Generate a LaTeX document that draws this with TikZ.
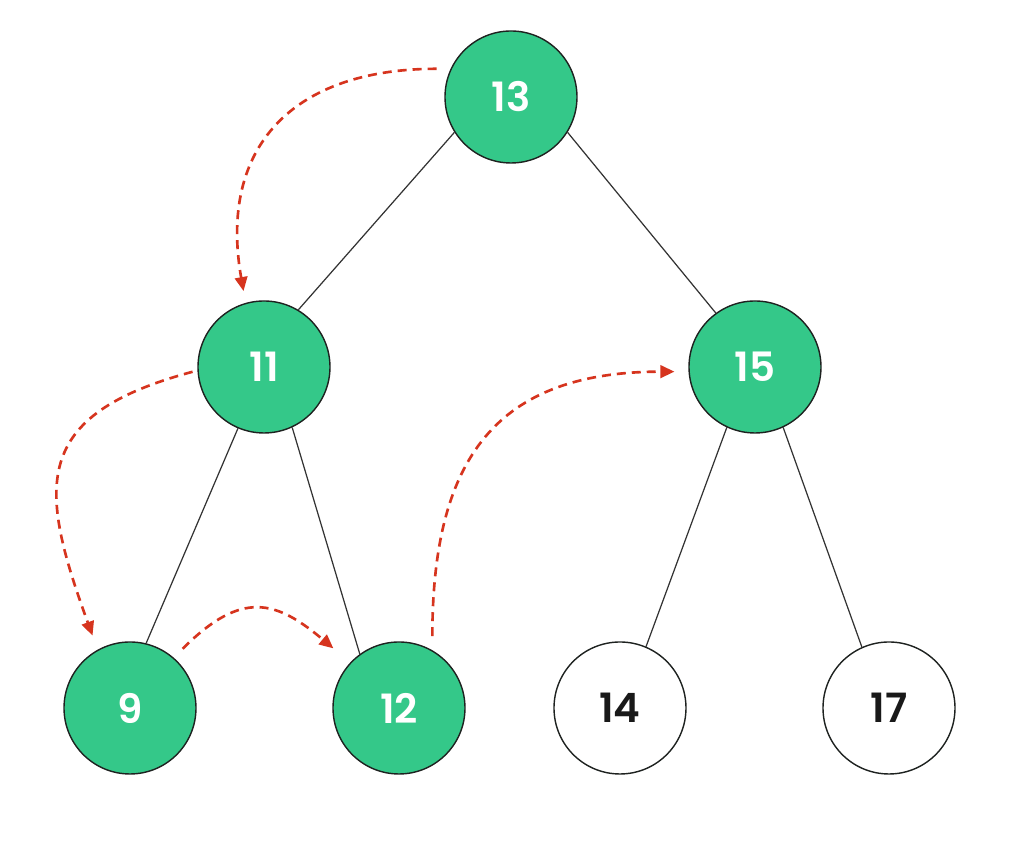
\documentclass[tikz,border=0pt]{standalone}
\usepackage{fontspec}
\setmainfont{Poppins}[BoldFont={Poppins SemiBold}]
\usepackage{xcolor}
\usepackage{tikz}
\usetikzlibrary{positioning, arrows.meta, calc}

\definecolor{visitgreen}{RGB}{52,200,137}
\definecolor{pathred}{RGB}{214,52,30}
\definecolor{rimgray}{RGB}{30,34,32}

\begin{document}
\begin{tikzpicture}[
        >={Triangle[length=0.28cm, width=0.25cm]},
        keynode/.style={circle, minimum size=2.64cm, inner sep=0pt, draw=rimgray, line width=0.8pt,
                        font=\fontsize{23}{27}\selectfont\bfseries},
        visited/.style={keynode, fill=visitgreen, text=white},
        unvisited/.style={keynode, fill=white, text=black!90},
        edge_style/.style={line width=0.7pt, draw=black!80},
        trav_style/.style={->, line width=1.5pt, draw=pathred, dash pattern=on 0.18cm off 0.12cm}
    ]

    \useasboundingbox (0,0) rectangle (20.48,16.92);

    % =========================================================================
    % 1. NODE PLACEMENTS
    % =========================================================================

    % Root (y = 14.98)
    \node[visited] (Root) at (10.22, 14.98) {13};

    % Level 1 (y = 9.58)
    \node[visited] (L1Left)  at (5.28, 9.58)  {11};
    \node[visited] (L1Right) at (15.10, 9.58) {15};

    % Leaf Level (y = 2.76)
    \node[visited]   (Leaf1) at (2.60, 2.76)  {9};
    \node[visited]   (Leaf2) at (7.98, 2.76)  {12};
    \node[unvisited] (Leaf3) at (12.40, 2.76) {14};
    \node[unvisited] (Leaf4) at (17.78, 2.76) {17};

    % =========================================================================
    % 2. TREE EDGES
    % =========================================================================
    \draw[edge_style] (Root.212) -- (L1Left.59);
    \draw[edge_style] (Root.328) -- (L1Right.126);

    \draw[edge_style] (L1Left.247) -- (Leaf1.76);
    \draw[edge_style] (L1Left.295) -- (Leaf2.126);

    \draw[edge_style] (L1Right.245) -- (Leaf3.67);
    \draw[edge_style] (L1Right.295) -- (Leaf4.114);

    % =========================================================================
    % 3. TRAVERSAL ORDER (dashed red)
    % =========================================================================
    \draw[trav_style, shorten <=0.28cm, shorten >=0.24cm]
        (Root.155) to[out=180, in=100, looseness=1.3] (L1Left.106);
    \draw[trav_style, shorten <=0.1cm, shorten >=0.3cm]
        (L1Left.183) to[out=195, in=110, looseness=1.5] (Leaf1.119);
    \draw[trav_style, shorten <=0.25cm, shorten >=0.44cm]
        (Leaf1.49) to[out=45, in=140, looseness=1.4] (Leaf2.137);
    \draw[trav_style, shorten <=0.28cm, shorten >=0.28cm]
        (Leaf2.60) to[out=90, in=180, looseness=1.3] (L1Right.184);

\end{tikzpicture}
\end{document}
